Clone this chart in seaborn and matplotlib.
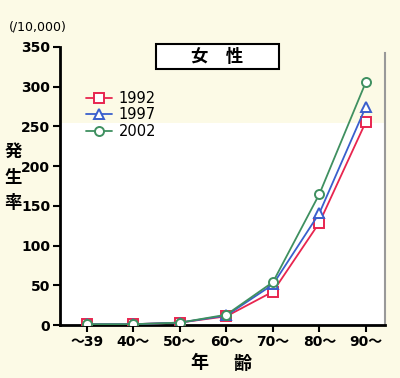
import matplotlib
matplotlib.use("Agg")
import matplotlib.pyplot as plt
import matplotlib.patches as mpatches
import seaborn as sns
import pandas as pd

categories = ["～39", "40～", "50～", "60～", "70～", "80～", "90～"]
years = ["1992", "1997", "2002"]
v1992 = [1, 1, 3, 11, 42, 129, 256]
v1997 = [1, 1, 3, 12, 51, 141, 275]
v2002 = [1, 1, 3, 13, 54, 165, 306]
yticks = [0, 50, 100, 150, 200, 250, 300, 350]

sns.set_theme(style="ticks")
plt.rcParams['font.family'] = ['DejaVu Sans', 'Noto Sans CJK JP']
plt.rcParams['text.color'] = 'black'
cjk = ['Noto Sans CJK JP', 'DejaVu Sans']

cream = "#fcfae6"
colors = {"1992": "#e8254f", "1997": "#3a5fcd", "2002": "#3f9060"}
markers = {"1992": "s", "1997": "^", "2002": "o"}

rows = []
for y, vals in zip(years, [v1992, v1997, v2002]):
    for i, v in enumerate(vals):
        rows.append({"age": i, "rate": v, "year": y})
df = pd.DataFrame(rows)

fig = plt.figure(figsize=(4.0, 3.78), dpi=100, facecolor=cream)
ax = fig.add_axes([0.15, 0.1402, 0.8125, 0.7355])
ax.set_facecolor(cream)
ax.axhspan(0, 254, color="white", zorder=0, lw=0)

for y in years:
    sns.lineplot(data=df[df.year == y], x="age", y="rate", ax=ax,
                 color=colors[y], marker=markers[y], markersize=6.5,
                 markerfacecolor="white", markeredgecolor=colors[y],
                 markeredgewidth=1.4, linewidth=1.3, label=y, zorder=3)

ax.set_xlim(-0.58, 6.41)
ax.set_ylim(0, 350)
ax.set_xticks(range(len(categories)))
ax.set_xticklabels(categories)
ax.set_yticks(yticks)
ax.set_xlabel("")
ax.set_ylabel("")
for lab in ax.get_yticklabels() + ax.get_xticklabels():
    lab.set_fontsize(10)
    lab.set_fontweight("bold")
    lab.set_color("black")
ax.tick_params(axis="both", direction="out", length=5, width=1.5, color="black", pad=2)
ax.spines["top"].set_visible(False)
ax.spines["left"].set_linewidth(2)
ax.spines["bottom"].set_linewidth(2)
ax.spines["left"].set_color("black")
ax.spines["bottom"].set_color("black")
ax.spines["right"].set_color("#999999")
ax.spines["right"].set_linewidth(1.5)
ax.spines["right"].set_bounds(0, 342)

leg = ax.legend(loc="upper left", bbox_to_anchor=(0.04, 0.89), frameon=False,
                prop={"size": 10.5}, handlelength=1.8, handletextpad=0.45, labelspacing=0.1)
for t in leg.get_texts():
    t.set_color("black")

fig.text(9/400, 1 - 27/378, "(/10,000)", fontsize=9, ha="left", va="center", color="black")

rect = mpatches.Rectangle((156/400, 1 - 69/378), 123/400, 25/378, transform=fig.transFigure,
                          facecolor="white", edgecolor="black", linewidth=1.5, zorder=5)
fig.patches.append(rect)
fig.text(217/400, 1 - 56.5/378, "女　性", fontsize=12.5, fontweight="bold", family=cjk,
         ha="center", va="center", zorder=6, color="black")

for ch, yc in zip(["発", "生", "率"], [152, 178, 203]):
    fig.text(13/400, 1 - yc/378, ch, fontsize=12.5, fontweight="bold", family=cjk,
             ha="center", va="center", color="black")
for ch, xc in zip(["年", "齢"], [199, 242]):
    fig.text(xc/400, 1 - 363/378, ch, fontsize=13, fontweight="bold", family=cjk,
             ha="center", va="center", color="black")

fig.savefig("out.png", dpi=100, facecolor=cream)
